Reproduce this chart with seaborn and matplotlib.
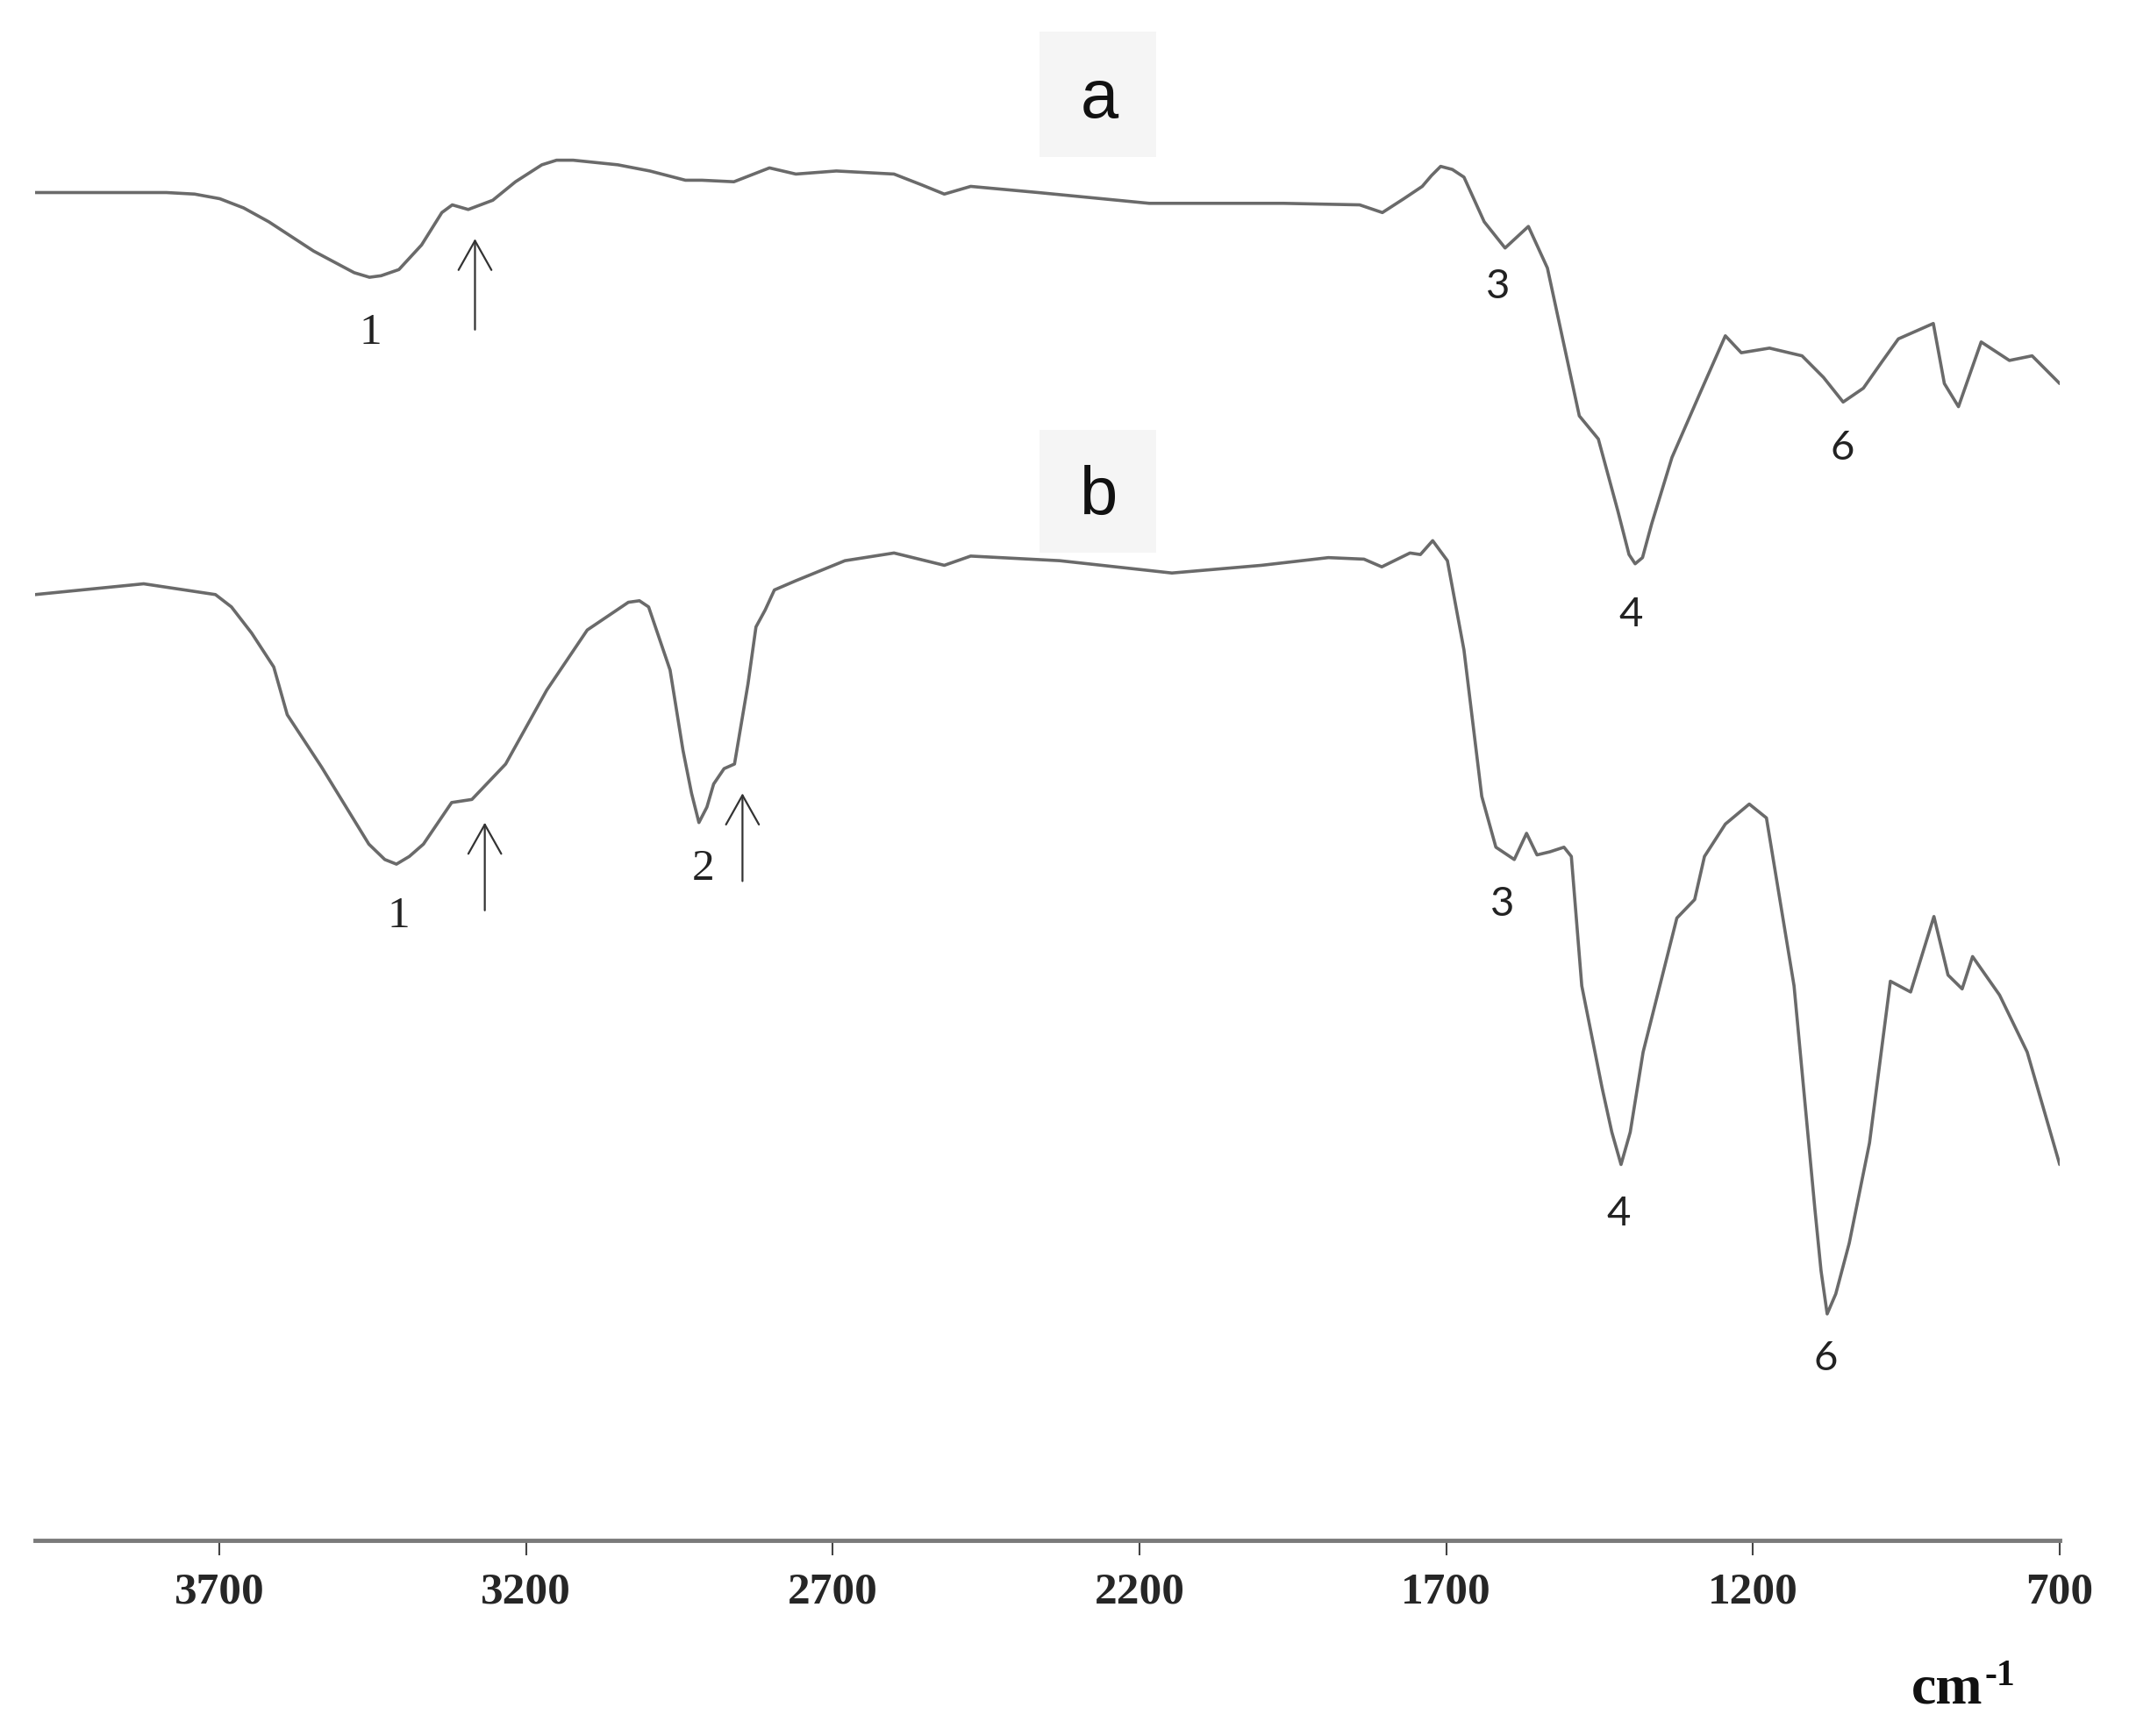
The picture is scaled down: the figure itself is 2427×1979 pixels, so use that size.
import matplotlib

matplotlib.use("Agg")
import matplotlib.pyplot as plt
from matplotlib.patches import Rectangle
import seaborn as sns

# FTIR traces: wavenumber (cm-1) and relative transmittance
wn_a = [4000, 3786, 3740, 3699, 3660, 3619, 3546, 3480, 3455, 3436, 3407, 3370,
        3337, 3320, 3294, 3254, 3217, 3174, 3150, 3123, 3050, 2998, 2940, 2913,
        2861, 2803, 2760, 2694, 2600, 2555, 2518, 2475, 2365, 2184, 1965, 1841,
        1804, 1769, 1739, 1724, 1709, 1690, 1671, 1638, 1604, 1566, 1535, 1483,
        1452, 1420, 1402, 1392, 1380, 1365, 1332, 1286, 1245, 1219, 1173, 1120,
        1085, 1053, 1020, 990, 963, 906, 888, 865, 828, 782, 745, 700]
t_a = [87.5, 87.5, 87.4, 87.1, 86.5, 85.6, 83.7, 82.3, 82.0, 82.1, 82.5, 84.1,
       86.2, 86.7, 86.4, 87.0, 88.2, 89.3, 89.6, 89.6, 89.3, 88.9, 88.3, 88.3,
       88.2, 89.1, 88.7, 88.9, 88.7, 88.0, 87.4, 87.9, 87.5, 86.8, 86.8, 86.7,
       86.2, 87.1, 87.9, 88.6, 89.2, 89.0, 88.5, 85.6, 83.9, 85.3, 82.6, 73.0,
       71.5, 66.8, 64.0, 63.4, 63.8, 66.0, 70.3, 74.5, 78.2, 77.1, 77.4, 76.9,
       75.5, 73.9, 74.8, 76.5, 78.0, 79.0, 75.1, 73.6, 77.8, 76.6, 76.9, 75.1]

wn_b = [4000, 3823, 3706, 3680, 3647, 3611, 3589, 3533, 3456, 3430, 3411, 3390,
        3367, 3321, 3288, 3233, 3166, 3100, 3033, 3015, 3000, 2965, 2944, 2930,
        2918, 2905, 2894, 2877, 2860, 2838, 2825, 2810, 2795, 2760, 2680, 2600,
        2518, 2475, 2330, 2147, 2001, 1892, 1834, 1805, 1759, 1742, 1722, 1698,
        1671, 1642, 1619, 1589, 1569, 1552, 1531, 1508, 1496, 1479, 1446, 1430,
        1415, 1400, 1379, 1324, 1295, 1279, 1245, 1206, 1178, 1133, 1099, 1089,
        1079, 1065, 1043, 1010, 976, 943, 905, 882, 859, 842, 798, 753, 700]
t_b = [61.4, 62.1, 61.4, 60.6, 58.9, 56.7, 53.6, 50.2, 45.2, 44.2, 43.9, 44.4,
       45.2, 47.9, 48.1, 50.4, 55.2, 59.1, 60.9, 61.0, 60.6, 56.5, 51.3, 48.5,
       46.6, 47.6, 49.1, 50.1, 50.4, 55.6, 59.3, 60.4, 61.7, 62.3, 63.6, 64.1,
       63.3, 63.9, 63.6, 62.8, 63.3, 63.8, 63.7, 63.2, 64.1, 64.0, 64.9, 63.6,
       57.8, 48.3, 45.0, 44.2, 45.9, 44.5, 44.7, 45.0, 44.4, 36.0, 29.4, 26.5,
       24.4, 26.5, 31.7, 40.4, 41.6, 44.4, 46.5, 47.8, 46.9, 36.0, 21.5, 17.5,
       14.7, 16.0, 19.3, 25.8, 36.3, 35.6, 40.5, 36.7, 35.8, 37.9, 35.4, 31.7,
       24.4]

tick_vals = [3700, 3200, 2700, 2200, 1700, 1200, 700]

# band numbers next to the traces: text, wavenumber, height
band_text = ["1", "3", "4", "6", "1", "2", "3", "4", "6"]
band_wn = [3453, 1615, 1399, 1055, 3407, 2911, 1608, 1419, 1082]
band_y = [78.4, 81.4, 60.1, 70.9, 40.5, 43.6, 41.3, 21.2, 11.8]

# arrows marking shoulders: wavenumber, tip height, tail height
arrow_wn = [3283, 3267, 2847]
arrow_tip = [84.5, 46.6, 48.5]
arrow_tail = [78.6, 40.9, 42.8]

line_color = "#6a6a6a"

sns.set_style("white")

fig = plt.figure(figsize=(24.27, 19.79), dpi=100)
ax = fig.add_axes([40 / 2427, 0.1127, 2308 / 2427, 0.8873])

sns.lineplot(x=wn_a, y=t_a, ax=ax, color=line_color, linewidth=2.6, estimator=None)
sns.lineplot(x=wn_b, y=t_b, ax=ax, color=line_color, linewidth=2.6, estimator=None)

ax.set_xlim(4000, 700)
ax.set_ylim(0, 100)

for side in ["left", "right", "top"]:
    ax.spines[side].set_visible(False)
ax.spines["bottom"].set_color("#7a7a7a")
ax.spines["bottom"].set_linewidth(3.5)
ax.set_yticks([])
ax.set_xticks(tick_vals)
ax.set_xticklabels([str(v) for v in tick_vals])
ax.tick_params(axis="x", bottom=True, direction="out", length=12, width=1.5,
               color="#444444", pad=14)
for lab in ax.get_xticklabels():
    lab.set_fontfamily("Liberation Serif")
    lab.set_fontweight("bold")
    lab.set_fontsize(37)
ax.set_xlabel("")
ax.set_ylabel("")

for txt, x, y in zip(band_text, band_wn, band_y):
    if txt in ("1", "2"):
        ax.text(x, y, txt, ha="center", va="center", fontsize=37,
                family="Liberation Serif", color="#222222")
    else:
        ax.text(x, y, txt, ha="center", va="center", fontsize=34,
                family="Lato", color="#222222")

for x, tip, tail in zip(arrow_wn, arrow_tip, arrow_tail):
    ax.annotate("", xy=(x, tip), xytext=(x, tail),
                arrowprops=dict(arrowstyle="->,head_length=0.8,head_width=0.45",
                                mutation_scale=30, color="#333333", lw=1.6,
                                shrinkA=0, shrinkB=0))

# panel letters on light grey patches
for letter, bottom, height, base in [("a", 0.9095, 0.0723, 0.9323),
                                     ("b", 0.6817, 0.0707, 0.7034)]:
    fig.patches.append(Rectangle((1185 / 2427, bottom), 133 / 2427, height,
                                 transform=fig.transFigure, facecolor="#f5f5f5",
                                 edgecolor="none", zorder=0))
    fig.text(1253 / 2427, base, letter, ha="center", va="baseline", fontsize=56,
             family="Liberation Sans", color="#111111")

fig.text(2179 / 2427, 1 - 1942 / 1979, "cm", ha="left", va="baseline", fontsize=46,
         family="Liberation Serif", fontweight="bold", color="#111111")
fig.text(2263 / 2427, 1 - 1921 / 1979, "-1", ha="left", va="baseline", fontsize=30,
         family="Liberation Serif", fontweight="bold", color="#111111")

fig.savefig("out.png", dpi=100)
plt.close(fig)
